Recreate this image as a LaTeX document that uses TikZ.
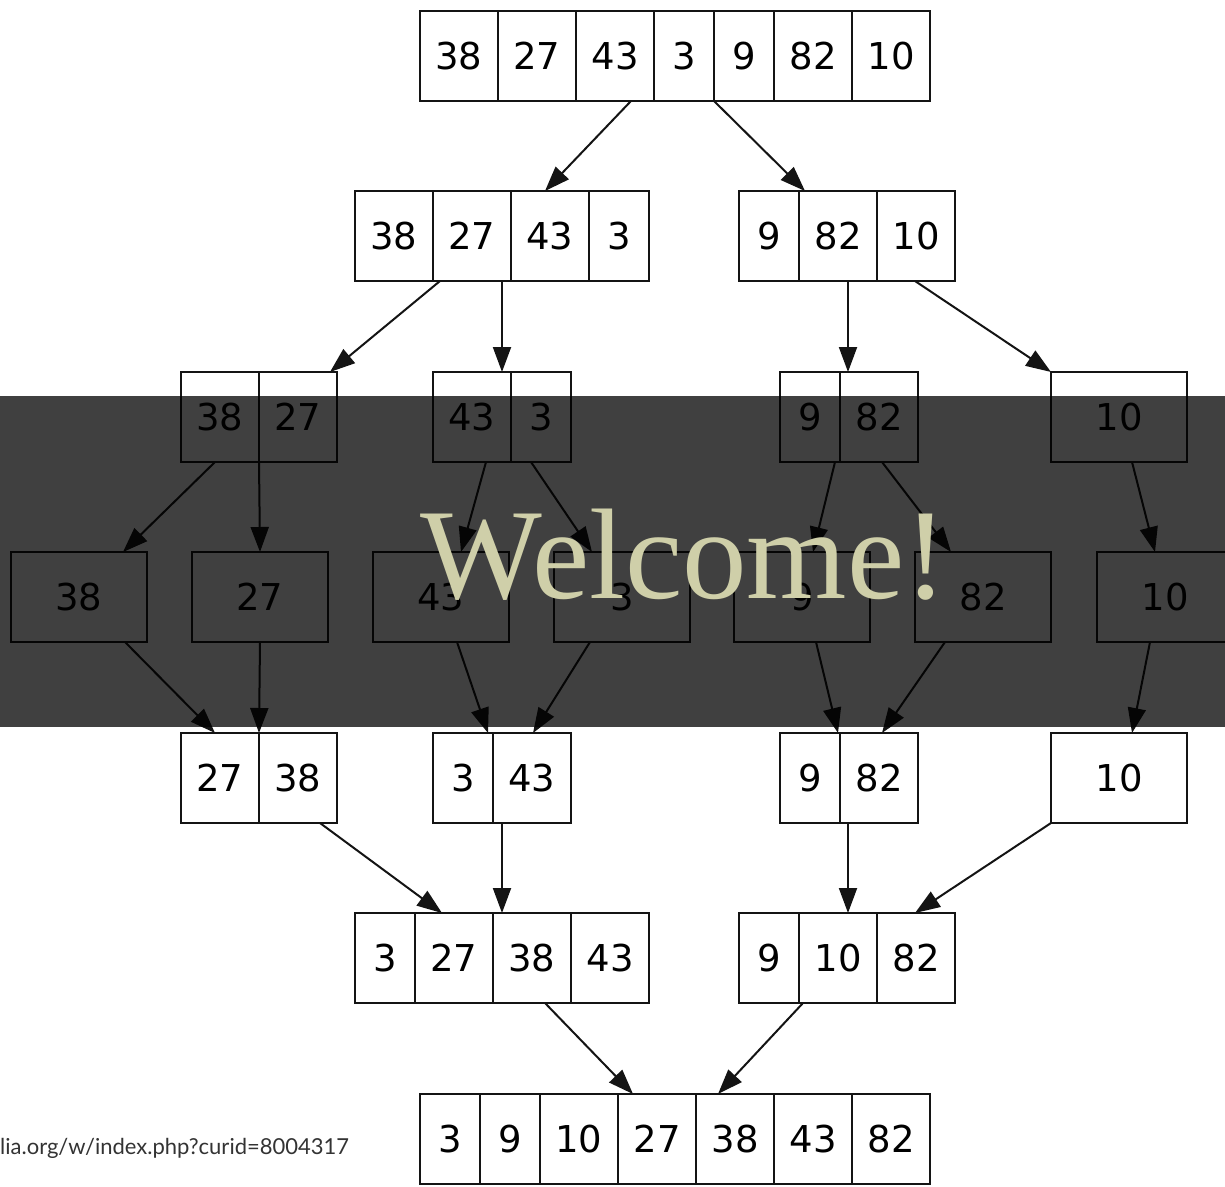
\documentclass[tikz,border=0pt]{standalone}
\usepackage{fontspec}
\setmainfont{DejaVu Sans}
\newfontfamily\welcomefont{Liberation Serif}
\newfontfamily\urlfont{Lato}
\usetikzlibrary{arrows.meta}
\definecolor{linec}{HTML}{141414}
\definecolor{welc}{HTML}{CFCFA9}
\definecolor{urlc}{HTML}{333333}
\tikzset{
  cell/.style={draw=linec, line width=2pt, minimum height=90pt, inner sep=0pt, outer sep=0pt, anchor=west, font=\fontsize{37}{40}\selectfont, text=black},
  wtwo/.style={cell, minimum width=78pt},
  wone/.style={cell, minimum width=60pt},
  wsing/.style={cell, minimum width=136pt},
  arr/.style={draw=linec, line width=2pt, -{Triangle[length=25pt,width=18pt]}}
}
\begin{document}
\begin{tikzpicture}[x=1pt,y=-1pt]
\useasboundingbox (0,0) rectangle (1225,1186);
\clip (0,0) rectangle (1225,1186);
% row 1
\node[wtwo] (a1) at (420,56) {38};
\node[wtwo] (a2) at (a1.east) {27};
\node[wtwo] (a3) at (a2.east) {43};
\node[wone] (a4) at (a3.east) {3};
\node[wone] (a5) at (a4.east) {9};
\node[wtwo] (a6) at (a5.east) {82};
\node[wtwo] (a7) at (a6.east) {10};
% row 2
\node[wtwo] (b1) at (355,236) {38};
\node[wtwo] (b2) at (b1.east) {27};
\node[wtwo] (b3) at (b2.east) {43};
\node[wone] (b4) at (b3.east) {3};
\node[wone] (c1) at (739,236) {9};
\node[wtwo] (c2) at (c1.east) {82};
\node[wtwo] (c3) at (c2.east) {10};
% row 3
\node[wtwo] (d1) at (181,417) {38};
\node[wtwo] (d2) at (d1.east) {27};
\node[wtwo] (e1) at (433,417) {43};
\node[wone] (e2) at (e1.east) {3};
\node[wone] (f1) at (780,417) {9};
\node[wtwo] (f2) at (f1.east) {82};
\node[wsing] (g1) at (1051,417) {10};
% row 4
\node[wsing] (h1) at (11,597) {38};
\node[wsing] (h2) at (192,597) {27};
\node[wsing] (h3) at (373,597) {43};
\node[wsing] (h4) at (554,597) {3};
\node[wsing] (h5) at (734,597) {9};
\node[wsing] (h6) at (915,597) {82};
\node[wsing] (h7) at (1097,597) {10};
% row 5
\node[wtwo] (i1) at (181,778) {27};
\node[wtwo] (i2) at (i1.east) {38};
\node[wone] (j1) at (433,778) {3};
\node[wtwo] (j2) at (j1.east) {43};
\node[wone] (k1) at (780,778) {9};
\node[wtwo] (k2) at (k1.east) {82};
\node[wsing] (l1) at (1051,778) {10};
% row 6
\node[wone] (m1) at (355,958) {3};
\node[wtwo] (m2) at (m1.east) {27};
\node[wtwo] (m3) at (m2.east) {38};
\node[wtwo] (m4) at (m3.east) {43};
\node[wone] (n1) at (739,958) {9};
\node[wtwo] (n2) at (n1.east) {10};
\node[wtwo] (n3) at (n2.east) {82};
% row 7
\node[wone] (o1) at (420,1139) {3};
\node[wone] (o2) at (o1.east) {9};
\node[wtwo] (o3) at (o2.east) {10};
\node[wtwo] (o4) at (o3.east) {27};
\node[wtwo] (o5) at (o4.east) {38};
\node[wtwo] (o6) at (o5.east) {43};
\node[wtwo] (o7) at (o6.east) {82};
% edges
\draw[arr] ([xshift=16pt]a3.south) -- ([xshift=-5pt]b3.north);
\draw[arr] (a4.south east) -- ([xshift=-33pt]c2.north);
\draw[arr] ([xshift=-32pt]b2.south) -- ([xshift=32pt]d2.north);
\draw[arr] ([xshift=30pt]b2.south) -- ([xshift=30pt]e1.north);
\draw[arr] ([xshift=10pt]c2.south) -- ([xshift=-31pt]f2.north);
\draw[arr] ([xshift=-1pt]c3.south) -- (g1.north west);
\draw[arr] ([xshift=-5pt]d1.south) -- ([xshift=44pt]h1.north);
\draw[arr] (d1.south east) -- (h2.north);
\draw[arr] ([xshift=14pt]e1.south) -- ([xshift=20pt]h3.north);
\draw[arr] ([xshift=-10pt]e2.south) -- ([xshift=-30pt]h4.north);
\draw[arr] ([xshift=-44pt]f2.south) -- ([xshift=11pt]h5.north);
\draw[arr] ([xshift=3pt]f2.south) -- ([xshift=-32pt]h6.north);
\draw[arr] ([xshift=13pt]g1.south) -- ([xshift=-10pt]h7.north);
\draw[arr] ([xshift=46pt]h1.south) -- ([xshift=-5pt]i1.north);
\draw[arr] (h2.south) -- (i1.north east);
\draw[arr] ([xshift=16pt]h3.south) -- ([xshift=-44pt]j2.north);
\draw[arr] ([xshift=-32pt]h4.south) -- ([xshift=1pt]j2.north);
\draw[arr] ([xshift=14pt]h5.south) -- ([xshift=-41pt]k2.north);
\draw[arr] ([xshift=-38pt]h6.south) -- ([xshift=3pt]k2.north);
\draw[arr] ([xshift=-15pt]h7.south) -- ([xshift=13pt]l1.north);
\draw[arr] ([xshift=22pt]i2.south) -- ([xshift=-12pt]m2.north);
\draw[arr] ([xshift=-30pt]j2.south) -- ([xshift=-30pt]m3.north);
\draw[arr] ([xshift=-31pt]k2.south) -- ([xshift=10pt]n2.north);
\draw[arr] (l1.south west) -- ([xshift=-1pt]n3.north);
\draw[arr] ([xshift=13pt]m3.south) -- ([xshift=-24pt]o4.north);
\draw[arr] ([xshift=-35pt]n2.south) -- ([xshift=-17pt]o5.north);
% banner
\fill[black, opacity=0.75] (0,396) rectangle (1225,727);
\node[anchor=base, text=welc, inner sep=0pt, font=\welcomefont\fontsize{129}{150}\selectfont] (welcome) at (684,598) {Welcome!};
% source text
\node[anchor=base west, text=urlc, inner sep=0pt, font=\urlfont\fontsize{22}{28}\selectfont] (src) at (0,1154) {lia.org/w/index.php?curid=8004317};
\end{tikzpicture}
\end{document}
